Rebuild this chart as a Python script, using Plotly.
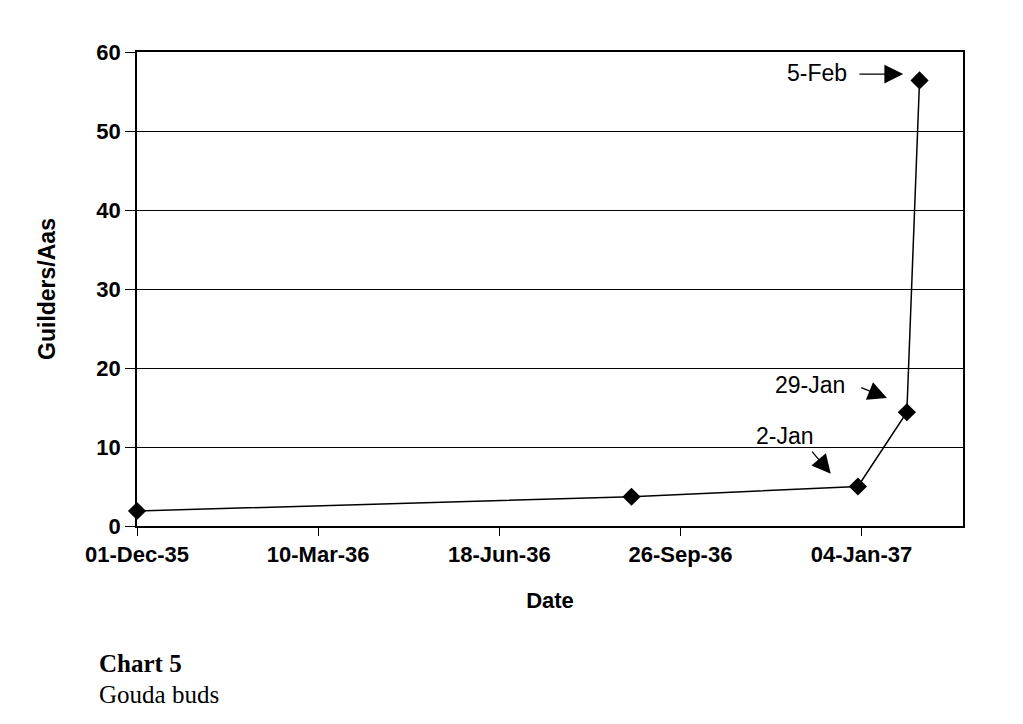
import plotly.graph_objects as go

dates = ["1935-12-01", "1936-08-30", "1937-01-02", "1937-01-29", "1937-02-05"]
prices = [1.9, 3.7, 5.0, 14.4, 56.4]

x_range = ["1935-12-01", "1937-03-01"]
y_ticks = [0, 10, 20, 30, 40, 50, 60]

# label annotations: (text, text x, text y, arrow tail x, tail y, head x, head y)
labels = [
    ("5-Feb", "1936-12-28", 57.4, "1937-01-02", 57.2, "1937-01-27", 57.2),
    ("29-Jan", "1936-12-27", 17.9, "1937-01-03", 17.6, "1937-01-18", 16.2),
    ("2-Jan", "1936-12-10", 11.4, "1936-12-07", 9.6, "1936-12-18", 6.6),
]

SANS = "Liberation Sans, Arial"

fig = go.Figure()
fig.add_trace(go.Scatter(
    x=dates, y=prices, mode="lines+markers",
    line=dict(color="black", width=1.5),
    marker=dict(symbol="diamond", size=14, color="black"),
    cliponaxis=False, showlegend=False,
))

for text, tx, ty, ax_, ay_, hx, hy in labels:
    fig.add_annotation(x=tx, y=ty, text=text, showarrow=False, xanchor="right",
                       yanchor="middle",
                       font=dict(family=SANS, size=23, color="black"))
    fig.add_annotation(x=hx, y=hy, ax=ax_, ay=ay_, axref="x", ayref="y", text="",
                       showarrow=True, arrowhead=2, arrowsize=2.9, arrowwidth=1.3,
                       arrowcolor="black")

fig.update_xaxes(
    type="date", range=x_range, tick0="1935-12-01", dtick=100 * 86400000,
    tickformat="%d-%b-%y", showgrid=False, showline=True, linecolor="black",
    linewidth=1.5, mirror=True, ticks="outside", ticklen=8, tickcolor="black",
    tickfont=dict(family=SANS, size=22, color="black", weight="bold"),
    title=dict(text="<b>Date</b>", font=dict(family=SANS, size=22, color="black"),
               standoff=26),
)
fig.update_yaxes(
    range=[0, 60], tickvals=y_ticks, showgrid=True, gridcolor="black", gridwidth=1,
    showline=True, linecolor="black", linewidth=1.5, mirror=True, ticks="outside",
    ticklen=10, tickcolor="black", zeroline=False,
    tickfont=dict(family=SANS, size=22, color="black", weight="bold"),
    title=dict(text="<b>Guilders/Aas</b>", font=dict(family=SANS, size=23, color="black"),
               standoff=34),
)

fig.add_annotation(xref="paper", yref="paper", x=-0.0485, y=-0.291, xanchor="left", yanchor="middle",
                   text="<b>Chart 5</b>", showarrow=False,
                   font=dict(family="Liberation Serif, serif", size=25, color="black"))
fig.add_annotation(xref="paper", yref="paper", x=-0.0485, y=-0.3565, xanchor="left", yanchor="middle",
                   text="Gouda buds", showarrow=False,
                   font=dict(family="Liberation Serif, serif", size=25, color="black"))

fig.update_layout(
    width=1023, height=724, paper_bgcolor="white", plot_bgcolor="white",
    margin=dict(l=129, r=68, t=44, b=206),
)
fig.write_html("out.html")
